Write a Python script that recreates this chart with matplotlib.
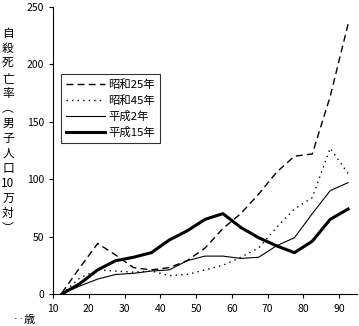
import matplotlib
matplotlib.use("Agg")
import matplotlib.pyplot as plt

plt.rcParams['font.family'] = ['Noto Sans CJK JP', 'DejaVu Sans']

# 年齢階級の中央値
ages = [12.5, 17.5, 22.5, 27.5, 32.5, 37.5, 42.5, 47.5, 52.5, 57.5,
        62.5, 67.5, 72.5, 77.5, 82.5, 87.5, 92.5]

s25 = [1, 23, 44, 34, 23, 21, 23, 29, 40, 57, 70, 87, 106, 120, 122, 172, 235]
s45 = [0, 14, 21, 20, 19, 20, 16, 17, 21, 25, 32, 40, 58, 74, 84, 127, 105]
h2 = [0, 7, 13, 17, 18, 20, 21, 29, 33, 33, 31, 32, 42, 49, 70, 90, 97]
h15 = [0, 9, 21, 29, 32, 36, 47, 55, 65, 70, 58, 49, 42, 36, 46, 65, 74]

labels = ["昭和25年", "昭和45年", "平成2年", "平成15年"]
ylabel_chars = ["自", "殺", "死", "亡", "率", "︵", "男", "子", "人", "口",
                "10", "万", "対", "︶"]

fig = plt.figure(figsize=(3.59, 3.26), dpi=100)
ax = fig.add_axes([53 / 359, 1 - 294 / 326, (357 - 53) / 359, (294 - 7) / 326])

ax.plot(ages, s25, color="black", lw=1.0, linestyle=(0, (5, 3)), label=labels[0])
ax.plot(ages, s45, color="black", lw=1.0, linestyle=(0, (1, 3)), label=labels[1])
ax.plot(ages, h2, color="black", lw=0.8, label=labels[2])
ax.plot(ages, h15, color="black", lw=2.2, label=labels[3])

ax.set_xlim(10, 95)
ax.set_ylim(0, 250)
ax.set_xticks(range(10, 100, 10))
ax.set_yticks(range(0, 251, 50))
ax.tick_params(labelsize=7.5, length=3, width=0.8, direction="out")
ax.tick_params(axis="x", pad=4)
for side in ["top", "right"]:
    ax.spines[side].set_visible(False)

leg = ax.legend(loc="upper left", bbox_to_anchor=(0.026, 0.767), borderaxespad=0,
                fontsize=8.2, frameon=True, fancybox=False, edgecolor="black",
                handlelength=3.4, handletextpad=0.3, borderpad=0.45,
                labelspacing=0.45)
leg.get_frame().set_linewidth(0.8)

fig.text(8 / 359, 1 - 131 / 326, "\n".join(ylabel_chars), ha="center",
         va="center", fontsize=8.5, linespacing=1.2)
fig.text(13 / 359, 1 - 320 / 326, "‥歳", ha="left", va="center", fontsize=8)

fig.savefig("out.png", dpi=100)
